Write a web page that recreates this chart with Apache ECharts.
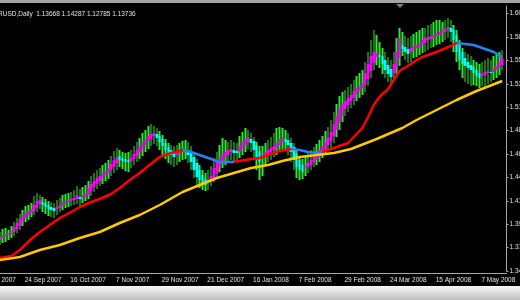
<!DOCTYPE html>
<html>
<head>
<meta charset="utf-8">
<script src="https://cdn.jsdelivr.net/npm/echarts@6/dist/echarts.min.js"></script>
<style>
html,body{margin:0;padding:0;background:#000;}
#chart{width:520px;height:300px;}
</style>
</head>
<body>
<div id="chart"></div>
<script>
// ---- data ----
const titleText = 'EURUSD,Daily  1.13668 1.14287 1.12785 1.13736';
const tickLabels = ['31 Aug 2007','24 Sep 2007','16 Oct 2007','7 Nov 2007','29 Nov 2007','21 Dec 2007',
  '16 Jan 2008','7 Feb 2008','29 Feb 2008','24 Mar 2008','15 Apr 2008','7 May 2008'];
const barsPerTick = 16;
const slotCount = 186;      // daily slots on the time axis (incl. right shift)
const firstBar = 8;         // first bar visible in the window

// Heiken Ashi bodies
const haOpen = [
1.379,1.381,1.383,1.384,1.385,1.387,1.390,1.393,1.397,1.401,
1.404,1.406,1.408,1.411,1.415,1.417,1.416,1.414,1.412,1.411,
1.410,1.411,1.413,1.415,1.417,1.418,1.419,1.420,1.422,1.421,
1.422,1.424,1.428,1.432,1.435,1.438,1.441,1.444,1.446,1.449,
1.452,1.456,1.463,1.461,1.460,1.459,1.458,1.460,1.463,1.466,
1.470,1.474,1.477,1.480,1.483,1.485,1.483,1.480,1.476,1.472,
1.469,1.467,1.464,1.465,1.467,1.468,1.469,1.467,1.462,1.456,
1.449,1.444,1.440,1.437,1.438,1.441,1.446,1.452,1.457,1.461,
1.464,1.467,1.469,1.468,1.467,1.470,1.474,1.477,1.480,1.478,
1.474,1.468,1.462,1.463,1.465,1.467,1.469,1.471,1.474,1.477,
1.480,1.479,1.476,1.472,1.465,1.459,1.454,1.451,1.452,1.454,
1.457,1.459,1.462,1.466,1.470,1.474,1.478,1.483,1.489,1.496,
1.504,1.510,1.514,1.518,1.521,1.525,1.528,1.531,1.534,1.540,
1.548,1.556,1.562,1.564,1.563,1.559,1.554,1.550,1.546,1.551,
1.561,1.574,1.572,1.570,1.567,1.569,1.571,1.572,1.574,1.576,
1.579,1.580,1.581,1.583,1.584,1.586,1.587,1.589,1.591,1.589,
1.584,1.575,1.567,1.561,1.557,1.554,1.552,1.549,1.546,1.543,
1.544,1.546,1.547,1.547,1.549,1.551,1.554];
const haClose = [
1.382,1.384,1.385,1.386,1.388,1.392,1.396,1.400,1.404,1.407,
1.408,1.410,1.414,1.418,1.419,1.414,1.412,1.410,1.409,1.408,
1.412,1.414,1.417,1.418,1.419,1.420,1.421,1.424,1.420,1.424,
1.426,1.431,1.435,1.438,1.441,1.443,1.446,1.448,1.451,1.455,
1.459,1.462,1.459,1.458,1.457,1.457,1.461,1.465,1.469,1.473,
1.477,1.480,1.483,1.485,1.486,1.481,1.477,1.473,1.469,1.466,
1.464,1.462,1.466,1.468,1.469,1.470,1.464,1.457,1.449,1.442,
1.439,1.436,1.434,1.439,1.443,1.451,1.457,1.462,1.465,1.467,
1.469,1.470,1.466,1.466,1.473,1.477,1.480,1.482,1.476,1.469,
1.462,1.457,1.464,1.467,1.469,1.471,1.473,1.476,1.480,1.482,
1.477,1.474,1.467,1.459,1.452,1.449,1.447,1.453,1.456,1.459,
1.462,1.464,1.469,1.473,1.477,1.481,1.487,1.495,1.503,1.511,
1.516,1.518,1.521,1.524,1.528,1.531,1.533,1.536,1.546,1.555,
1.563,1.567,1.566,1.562,1.555,1.549,1.545,1.542,1.555,1.567,
1.581,1.570,1.567,1.565,1.571,1.573,1.574,1.576,1.579,1.581,
1.582,1.583,1.584,1.586,1.587,1.589,1.590,1.592,1.587,1.579,
1.567,1.559,1.555,1.553,1.551,1.549,1.546,1.543,1.541,1.545,
1.547,1.548,1.546,1.551,1.553,1.557,1.561];
// daily high / low (green bars)
const barHigh = [
1.387,1.390,1.391,1.389,1.393,1.397,1.401,1.405,1.409,1.413,
1.414,1.416,1.423,1.426,1.424,1.422,1.420,1.418,1.417,1.416,
1.419,1.421,1.424,1.425,1.426,1.427,1.429,1.433,1.430,1.432,
1.434,1.438,1.443,1.446,1.449,1.451,1.454,1.456,1.459,1.463,
1.468,1.471,1.469,1.467,1.466,1.467,1.469,1.473,1.477,1.481,
1.486,1.489,1.493,1.495,1.493,1.491,1.488,1.484,1.480,1.476,
1.474,1.473,1.474,1.476,1.478,1.479,1.477,1.473,1.467,1.460,
1.454,1.449,1.446,1.449,1.453,1.461,1.467,1.474,1.481,1.479,
1.477,1.479,1.477,1.476,1.483,1.487,1.491,1.489,1.486,1.482,
1.477,1.473,1.473,1.476,1.479,1.482,1.486,1.491,1.492,1.491,
1.489,1.486,1.481,1.476,1.469,1.463,1.460,1.462,1.466,1.469,
1.472,1.475,1.479,1.483,1.488,1.492,1.499,1.507,1.515,1.523,
1.527,1.529,1.532,1.535,1.539,1.543,1.546,1.549,1.557,1.567,
1.579,1.589,1.584,1.577,1.571,1.567,1.562,1.559,1.567,1.581,
1.591,1.587,1.583,1.581,1.583,1.585,1.587,1.589,1.591,1.591,
1.594,1.595,1.597,1.599,1.599,1.597,1.599,1.601,1.599,1.594,
1.589,1.579,1.571,1.567,1.565,1.563,1.559,1.557,1.555,1.557,
1.559,1.561,1.559,1.563,1.565,1.567,1.569];
const barLow = [
1.374,1.376,1.377,1.379,1.381,1.383,1.386,1.389,1.393,1.397,
1.399,1.402,1.404,1.407,1.410,1.407,1.405,1.403,1.402,1.401,
1.404,1.407,1.409,1.411,1.412,1.413,1.414,1.415,1.413,1.416,
1.418,1.420,1.423,1.427,1.430,1.433,1.435,1.438,1.440,1.443,
1.446,1.449,1.452,1.450,1.448,1.447,1.451,1.454,1.457,1.460,
1.463,1.467,1.470,1.473,1.475,1.473,1.469,1.464,1.460,1.456,
1.454,1.452,1.454,1.457,1.459,1.460,1.456,1.449,1.441,1.434,
1.431,1.429,1.428,1.429,1.433,1.437,1.441,1.447,1.451,1.454,
1.457,1.459,1.457,1.458,1.461,1.464,1.467,1.470,1.467,1.459,
1.449,1.439,1.443,1.454,1.457,1.459,1.462,1.464,1.467,1.470,
1.468,1.464,1.457,1.449,1.441,1.439,1.440,1.443,1.446,1.449,
1.452,1.454,1.457,1.461,1.464,1.468,1.471,1.476,1.482,1.489,
1.497,1.503,1.507,1.511,1.514,1.518,1.521,1.524,1.527,1.533,
1.541,1.549,1.554,1.551,1.545,1.541,1.537,1.535,1.539,1.545,
1.553,1.563,1.559,1.556,1.557,1.561,1.562,1.564,1.566,1.567,
1.569,1.571,1.572,1.574,1.575,1.577,1.579,1.581,1.577,1.567,
1.557,1.549,1.541,1.537,1.535,1.533,1.534,1.533,1.531,1.533,
1.531,1.535,1.537,1.539,1.541,1.544,1.549];
// fast moving average [bar index, value]; red while rising, blue while falling
const maFast = [[8,1.361],[12,1.363],[15,1.369],[19,1.380],[22,1.387],[25,1.393],[29,1.401],[33,1.407],
  [36,1.412],[40,1.417],[43,1.420],[47,1.425],[50,1.431],[54,1.440],[57,1.446],[60,1.453],[64,1.462],
  [68,1.466],[71,1.468],[72,1.469],[75,1.467],[78,1.464],[82,1.460],[85,1.457],[89,1.457],[92,1.458],
  [96,1.460],[99,1.461],[103,1.465],[106,1.468],[110,1.470],[113,1.469],[116,1.467],[120,1.466],
  [124,1.470],[127,1.473],[130,1.476],[135,1.491],[137,1.502],[139,1.514],[141,1.522],[144,1.530],
  [146,1.539],[148,1.548],[152,1.555],[154,1.559],[156,1.562],[161,1.567],[166,1.573],[168,1.576],
  [174,1.574],[181,1.567],[184,1.562]];
const maFastFalling = [[72,90],[110,121],[168,186]];
// slow moving average [bar index, value]
const maSlow = [[8,1.359],[15,1.362],[22,1.369],[29,1.374],[36,1.381],[43,1.387],[50,1.396],[57,1.404],
  [64,1.414],[72,1.427],[78,1.434],[84,1.441],[90,1.446],[96,1.451],[102,1.454],[107,1.458],[113,1.462],
  [119,1.464],[125,1.466],[131,1.470],[140,1.480],[149,1.491],[154,1.499],[161,1.509],[168,1.519],
  [175,1.528],[184,1.538]];
// price scale (labels clipped at the right edge)
const yMin = 1.348, yStep = 0.0234, yMax = 1.613;

// ---- build ----
const categories = Array.from({length: slotCount}, (_, i) => String(i));
const haData = haOpen.map((o, k) => {
  const c = haClose[k];
  return [firstBar + k, o, c, Math.min(o, c), Math.max(o, c)];
});
const rangeData = barHigh.map((h, k) => [firstBar + k, barLow[k], h, barLow[k], h]);

const RED = '#ff0000', BLUE = '#2383f5';
const pieces = [];
let prev = 0;
maFastFalling.forEach(([a, b]) => {
  pieces.push({gte: prev, lt: a, color: RED});
  pieces.push({gte: a, lt: b, color: BLUE});
  prev = b;
});
pieces.push({gte: prev, color: RED});

const FONT = 'Liberation Sans';
const isTick = (i) => i % barsPerTick === 0;

const chart = echarts.init(document.getElementById('chart'), null, {renderer: 'canvas'});
chart.setOption({
  animation: false,
  backgroundColor: '#000000',
  title: {
    text: titleText, left: -16, top: 6,
    textStyle: {color: '#e2e2e2', fontSize: 6.5, fontWeight: 'normal', fontFamily: FONT}
  },
  grid: {left: -24.4, right: 13.5, top: 6, bottom: 29, containLabel: false, outerBoundsMode: 'none'},
  xAxis: {
    type: 'category', data: categories, boundaryGap: true, offset: 2,
    axisLine: {lineStyle: {color: '#a8a8a8', width: 1}},
    axisTick: {alignWithLabel: true, interval: isTick, length: 3, lineStyle: {color: '#a8a8a8'}},
    axisLabel: {
      interval: isTick, align: 'left', margin: 4, color: '#e2e2e2', fontSize: 6.5, fontFamily: FONT,
      padding: [0, 0, 0, 2],
      formatter: (v, i) => tickLabels[Math.round(i / barsPerTick)]
    },
    splitLine: {show: false}
  },
  yAxis: {
    type: 'value', position: 'right', min: yMin, max: yMax, interval: yStep,
    axisLine: {show: true, lineStyle: {color: '#a8a8a8'}},
    axisTick: {show: true, length: 2, lineStyle: {color: '#a8a8a8'}},
    axisLabel: {
      showMaxLabel: false, margin: 3, color: '#e2e2e2', fontSize: 6.5, fontFamily: FONT,
      formatter: (v) => v.toFixed(4)
    },
    splitLine: {show: false}
  },
  visualMap: {
    type: 'piecewise', show: false, seriesIndex: 2, dimension: 0, pieces: pieces
  },
  series: [
    {
      type: 'candlestick', data: rangeData, encode: {x: 0, y: [1, 2, 3, 4]}, barWidth: 2, z: 2,
      itemStyle: {color: '#33e633', color0: '#33e633', borderColor: '#33e633', borderColor0: '#33e633', borderWidth: 0}
    },
    {
      type: 'candlestick', data: haData, encode: {x: 0, y: [1, 2, 3, 4]}, barWidth: 3, z: 3,
      itemStyle: {color: '#ff00ff', color0: '#00ffff', borderColor: '#ff00ff', borderColor0: '#00ffff', borderWidth: 0}
    },
    {
      type: 'line', data: maFast, showSymbol: false, z: 4,
      lineStyle: {width: 2.5}
    },
    {
      type: 'line', data: maSlow, showSymbol: false, z: 4,
      lineStyle: {width: 2.5, color: '#ffc800'}, itemStyle: {color: '#ffc800'}
    }
  ],
  graphic: [
    {type: 'rect', shape: {x: 0, y: 286, width: 520, height: 14}, z: 100,
     style: {fill: new echarts.graphic.LinearGradient(0, 0, 0, 1, [
       {offset: 0, color: '#f6f6f6'}, {offset: 0.35, color: '#e6e6e6'}, {offset: 1, color: '#bdbdbd'}])}},
    {type: 'rect', shape: {x: 0, y: 0, width: 520, height: 3}, z: 100, style: {fill: '#a4a4a4'}},
    {type: 'polygon', shape: {points: [[396, 4], [404, 4], [400, 8]]}, z: 100, style: {fill: '#7c7c7c'}}
  ]
});
</script>
</body>
</html>
